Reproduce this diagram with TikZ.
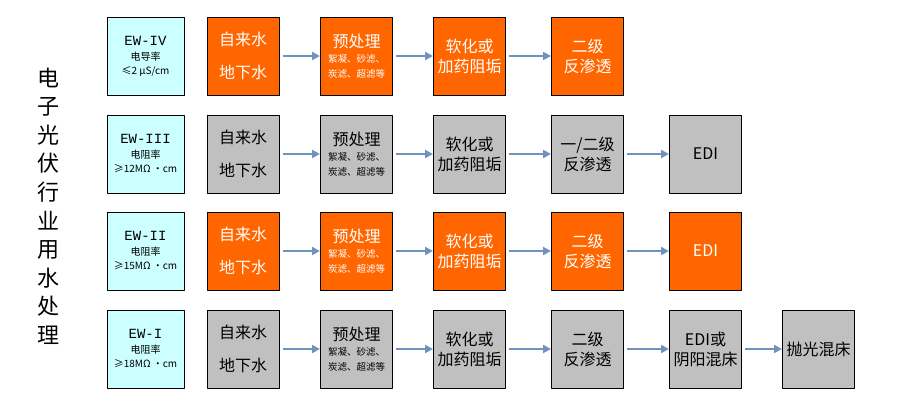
\documentclass[tikz,border=0pt]{standalone}
\usepackage{fontspec}
\setmainfont{Noto Sans CJK SC}
\newfontfamily\latinfnt{Liberation Mono}
\usetikzlibrary{arrows.meta}
\definecolor{orng}{HTML}{FF6600}
\definecolor{gry}{HTML}{C0C0C0}
\definecolor{cyn}{HTML}{CCFFFF}
\definecolor{flowblue}{RGB}{112,146,190}
\newcommand\srcwater{自来水\\[13pt]地下水}
\newcommand\pretreat{预处理\\[-5pt]\fontsize{9.5}{14}\selectfont 絮凝、砂滤、\\[-5pt]\fontsize{9.5}{14}\selectfont 炭滤、超滤等}
\newcommand\softbox{软化或\\加药阻垢}
\begin{document}
\begin{tikzpicture}[x=1pt,y=-1pt,>={Triangle[length=8pt,width=8pt]},line join=round]
	\tikzset{
		box/.style={draw=black,line width=1pt,minimum width=72pt,minimum height=78pt,inner sep=0pt,align=center,font=\fontsize{16}{20}\selectfont},
		hot/.style={box,fill=orng,text=white},
		cold/.style={box,fill=gry,text=black},
		grade/.style={box,fill=cyn,minimum width=77pt,font=\fontsize{10}{14}\selectfont},
		flow/.style={->,draw=flowblue,line width=2.8pt},
	}
	\useasboundingbox (0,0) rectangle (900,410);
	\def \cA{145.5} %cot 1
	\def \cB{243}
	\def \cC{356.5}
	\def \cD{469.5}
	\def \cE{587.5}
	\def \cF{705.5}
	\def \cG{818.5}
	% tieu de
	\node[align=center,font=\fontsize{22}{28.6}\selectfont] (title) at (48,206) {电\\子\\光\\伏\\行\\业\\用\\水\\处\\理};
	% EW-IV
	\node[grade] (r1c1) at (\cA,56) {{\latinfnt\fontsize{14}{16}\selectfont EW-IV}\\[1pt]电导率\\≤2 μS/cm};
	\node[hot] (r1c2) at (\cB,56) {\srcwater};
	\node[hot] (r1c3) at (\cC,56) {\pretreat};
	\node[hot] (r1c4) at (\cD,56) {\softbox};
	\node[hot] (r1c5) at (\cE,56) {二级\\反渗透};
	% EW-III
	\node[grade] (r2c1) at (\cA,154) {{\latinfnt\fontsize{14}{16}\selectfont EW-III}\\[1pt]电阻率\\≥12MΩ ·cm};
	\node[cold] (r2c2) at (\cB,154) {\srcwater};
	\node[cold] (r2c3) at (\cC,154) {\pretreat};
	\node[cold] (r2c4) at (\cD,154) {\softbox};
	\node[cold] (r2c5) at (\cE,154) {一/二级\\反渗透};
	\node[cold] (r2c6) at (\cF,154) {EDI};
	% EW-II
	\node[grade] (r3c1) at (\cA,251) {{\latinfnt\fontsize{14}{16}\selectfont EW-II}\\[1pt]电阻率\\≥15MΩ ·cm};
	\node[hot] (r3c2) at (\cB,251) {\srcwater};
	\node[hot] (r3c3) at (\cC,251) {\pretreat};
	\node[hot] (r3c4) at (\cD,251) {\softbox};
	\node[hot] (r3c5) at (\cE,251) {二级\\反渗透};
	\node[hot] (r3c6) at (\cF,251) {EDI};
	% EW-I
	\node[grade] (r4c1) at (\cA,349) {{\latinfnt\fontsize{14}{16}\selectfont EW-I}\\[1pt]电阻率\\≥18MΩ ·cm};
	\node[cold] (r4c2) at (\cB,349) {\srcwater};
	\node[cold] (r4c3) at (\cC,349) {\pretreat};
	\node[cold] (r4c4) at (\cD,349) {\softbox};
	\node[cold] (r4c5) at (\cE,349) {二级\\反渗透};
	\node[cold] (r4c6) at (\cF,349) {EDI或\\阴阳混床};
	\node[cold] (r4c7) at (\cG,349) {抛光混床};
	% mui ten
	\foreach \r/\n in {1/4,2/5,3/5,4/6}
		\foreach \c in {2,...,\n}{
			\pgfmathtruncatemacro\d{\c+1}
			\draw[flow] ([xshift=3pt]r\r c\c.east) -- (r\r c\d.west);
		}
\end{tikzpicture}
\end{document}
